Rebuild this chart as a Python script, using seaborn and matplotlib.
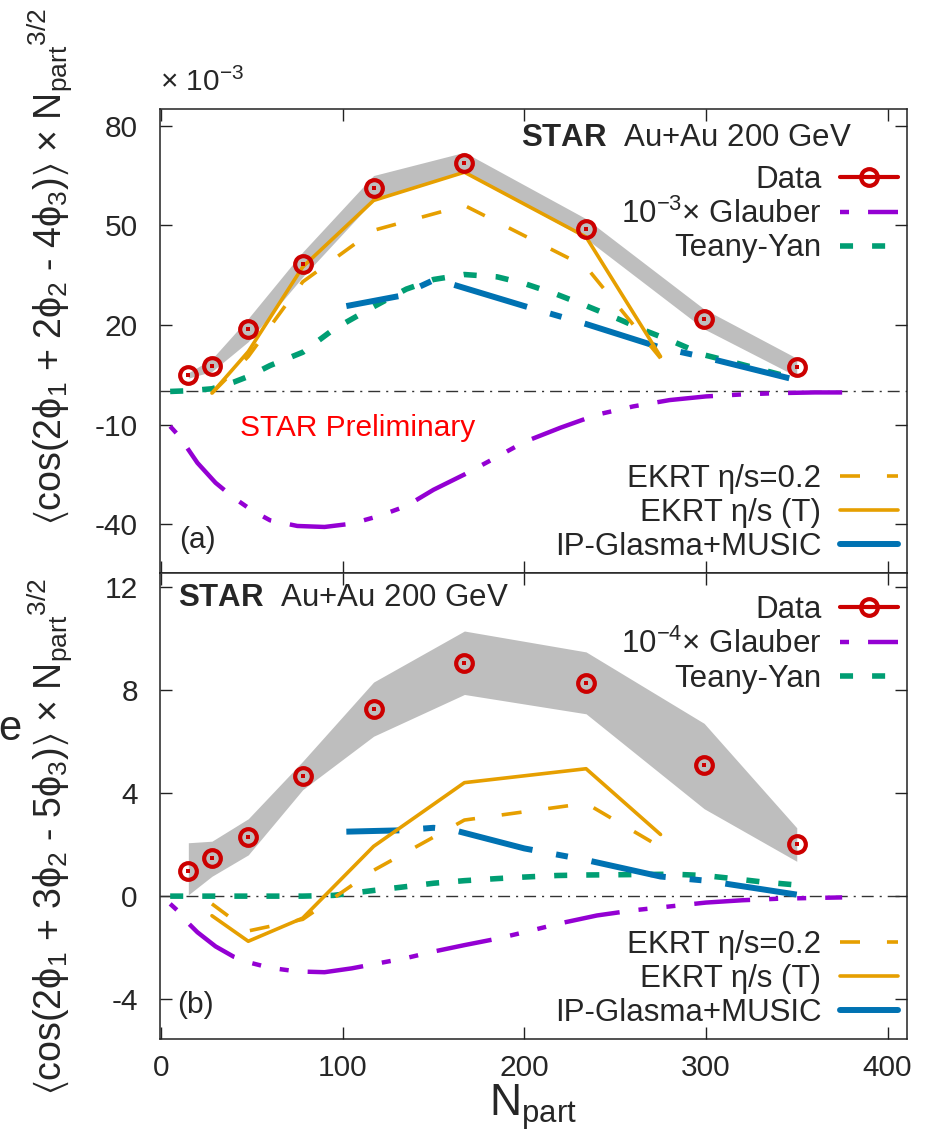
import numpy as np
import pandas as pd
import matplotlib
matplotlib.use("Agg")
import matplotlib.pyplot as plt
from matplotlib.lines import Line2D
import seaborn as sns

# ---------------- data ----------------
npart = [15, 28, 48, 78, 117, 167, 234, 299, 350]

# (a) <cos(2phi1 + 2phi2 - 4phi3)> x Npart^{3/2}, in units of 1e-3
data_a = [4.8, 7.7, 18.7, 38.3, 61.2, 68.8, 49.0, 21.8, 7.3]
sys_lo_a = [4.0, 6.0, 15.0, 34.5, 57.5, 66.0, 46.0, 18.8, 4.5]
sys_hi_a = [5.6, 9.8, 22.0, 42.0, 65.0, 72.0, 52.0, 24.8, 10.0]

# (b) <cos(2phi1 + 3phi2 - 5phi3)> x Npart^{3/2}, in units of 1e-3
data_b = [0.96, 1.46, 2.30, 4.64, 7.26, 9.04, 8.25, 5.08, 2.03]
sys_lo_b = [0.05, 0.77, 1.6, 4.13, 6.2, 7.82, 7.07, 3.39, 1.35]
sys_hi_b = [2.07, 2.13, 3.0, 5.23, 8.3, 10.28, 9.47, 6.7, 2.65]

# EKRT hydro
npart_ekrt = [28, 48, 78, 117, 167, 234, 275]
ekrt_T_a = [-0.5, 12.0, 37.5, 57.5, 66.0, 46.5, 10.5]
ekrt_02_a = [-0.5, 10.5, 33.0, 48.5, 56.0, 37.5, 10.0]
ekrt_T_b = [-0.76, -1.75, -0.85, 1.93, 4.4, 4.94, 2.39]
ekrt_02_b = [-0.3, -1.35, -0.9, 1.0, 2.95, 3.6, 1.9]

# Teany-Yan
npart_ty = [5, 15, 28, 40, 48, 60, 78, 95, 117, 135, 150, 167, 185, 200,
            218, 234, 251, 267, 282, 299, 315, 331, 347]
ty_a = [0, 0.2, 0.8, 2.8, 4.5, 7.8, 11.8, 18.7, 25.5, 30.8, 33.7, 35.2, 34.5,
        32.5, 29.2, 25.8, 22.0, 18.2, 15.0, 11.0, 8.8, 6.5, 4.2]
ty_b = [0, 0, 0, 0, 0, 0, 0, 0.03, 0.22, 0.37, 0.5, 0.6, 0.68, 0.74, 0.8,
        0.82, 0.83, 0.84, 0.85, 0.8, 0.68, 0.55, 0.45]

# Glauber (already multiplied by 1e-3 in (a) and 1e-4 in (b))
npart_gl = [5, 10, 15, 20, 30, 40, 50, 60, 75, 90, 105, 120, 135, 150, 167,
            185, 200, 220, 240, 260, 280, 300, 320, 340, 360, 375]
gl_a = [-10.5, -13.5, -17.5, -21.5, -27.5, -32.0, -35.8, -38.8, -40.5, -40.8,
        -39.8, -37.5, -34.5, -29.6, -25.0, -19.7, -15.2, -10.9, -7.0, -4.5,
        -2.6, -1.5, -0.9, -0.5, -0.3, -0.3]
gl_b = [-0.3, -0.62, -1.05, -1.4, -1.95, -2.35, -2.6, -2.78, -2.92, -2.95,
        -2.8, -2.6, -2.4, -2.15, -1.9, -1.65, -1.4, -1.05, -0.75, -0.55,
        -0.4, -0.25, -0.16, -0.1, -0.07, -0.05]

# IP-Glasma+MUSIC
npart_ip = [102, 131, 150, 160, 200, 234, 275, 300, 350]
ip_a = [25.7, 28.7, 33.5, 32.3, 25.7, 20.3, 13.2, 10.2, 3.4]
ip_b = [2.5, 2.55, 2.65, 2.58, 1.85, 1.4, 0.76, 0.6, 0.06]

yticks_a = [80, 50, 20, -10, -40]
yticks_b = [12, 8, 4, 0, -4]
xticks = [0, 100, 200, 300, 400]

# ---------------- style ----------------
sns.set_theme(style="ticks")
plt.rcParams.update({
    "font.family": ["Liberation Sans", "DejaVu Sans"],
    "mathtext.fontset": "custom",
    "mathtext.rm": "Liberation Sans",
    "mathtext.it": "Liberation Sans:italic",
    "mathtext.bf": "Liberation Sans:bold",
    "mathtext.sf": "Liberation Sans",
    "mathtext.fallback": "stixsans",
    "axes.unicode_minus": False,
    "lines.scale_dashes": False,
    "axes.linewidth": 1.1,
    "axes.edgecolor": "#222222",
})

RED = "#CC0000"
GRAY = "#BEBEBE"
PURPLE = "#9400D3"
GREEN = "#009E73"
ORANGE = "#E69F00"
BLUE = "#0072B2"

GL_STYLE = (74.2, (40.3, 13.7, 6.5, 13.7, 6.5, 13.7))
TY_STYLE = (0, (9.4, 13.7))
EK_STYLE = (0, (14.4, 19.4))
IP_STYLE = (16.6, (54.7, 17.3, 8.6, 17.3))
ZERO_STYLE = (0, (8.6, 4.3, 1.5, 4.3))

FS = 22.5

fig = plt.figure(figsize=(9.29, 11.43), dpi=100)
W, H = 929.0, 1143.0
ax_a = fig.add_axes([160 / W, 1 - 573 / H, 747 / W, 464 / H])
ax_b = fig.add_axes([160 / W, 1 - 1039 / H, 747 / W, 466 / H], sharex=ax_a)


def draw_panel(ax, data, lo, hi, ekT, ek02, ty, gl, ip):
    ax.axhline(0, color="#333333", lw=1.0, linestyle=ZERO_STYLE, zorder=1.5)
    ax.fill_between(npart, lo, hi, color=GRAY, lw=0, zorder=1)
    sns.lineplot(x=npart_gl, y=gl, ax=ax, color=PURPLE, lw=3.2,
                 linestyle=GL_STYLE, errorbar=None, legend=False, zorder=2)
    sns.lineplot(x=npart_ty, y=ty, ax=ax, color=GREEN, lw=4.0,
                 linestyle=TY_STYLE, errorbar=None, legend=False, zorder=2.2)
    sns.lineplot(x=npart_ip, y=ip, ax=ax, color=BLUE, lw=4.3,
                 linestyle=IP_STYLE, errorbar=None, legend=False, zorder=2.4)
    sns.lineplot(x=npart_ekrt, y=ek02, ax=ax, color=ORANGE, lw=2.6,
                 linestyle=EK_STYLE, errorbar=None, legend=False, zorder=2.6)
    sns.lineplot(x=npart_ekrt, y=ekT, ax=ax, color=ORANGE, lw=2.6,
                 errorbar=None, legend=False, zorder=2.7)
    ax.plot(npart, data, linestyle="none", marker="o", ms=12, mfc="none",
            mec=RED, mew=3.0, zorder=5)
    ax.plot(npart, data, linestyle="none", marker="s", ms=3.2, mfc=RED,
            mec=RED, mew=0, zorder=5.1)
    ax.tick_params(axis="both", which="major", direction="in", length=8.5,
                   width=1.0, top=True, right=True, labelsize=21.5,
                   color="#222222")
    ax.tick_params(axis="y", pad=16)
    ax.tick_params(axis="x", pad=11)
    ax.grid(False)


draw_panel(ax_a, data_a, sys_lo_a, sys_hi_a, ekrt_T_a, ekrt_02_a, ty_a, gl_a, ip_a)
draw_panel(ax_b, data_b, sys_lo_b, sys_hi_b, ekrt_T_b, ekrt_02_b, ty_b, gl_b, ip_b)

ax_a.set_xlim(-0.6, 410.7)
ax_a.set_ylim(-54.66, 85.03)
ax_b.set_ylim(-5.54, 12.53)
ax_a.set_yticks(yticks_a)
ax_b.set_yticks(yticks_b)
ax_b.set_xticks(xticks)
ax_a.tick_params(labelbottom=False)
ax_b.set_xlabel("N$_{\\mathrm{part}}$", fontsize=32, labelpad=0)

# ---------------- legends ----------------
h_data = Line2D([], [], color=RED, lw=3.0, marker="o", ms=12, mfc="none",
                mec=RED, mew=3.0)
h_gl = Line2D([], [], color=PURPLE, lw=3.2, linestyle=GL_STYLE)
h_ty = Line2D([], [], color=GREEN, lw=4.0, linestyle=TY_STYLE)
h_ek02 = Line2D([], [], color=ORANGE, lw=2.6, linestyle=EK_STYLE)
h_ekT = Line2D([], [], color=ORANGE, lw=2.6)
h_ip = Line2D([], [], color=BLUE, lw=4.3)

leg_kw = dict(frameon=False, markerfirst=False, fontsize=FS, handlelength=1.85,
              handletextpad=0.6, labelspacing=0.12, borderpad=0,
              borderaxespad=0, numpoints=1)

model_labels = ["EKRT η/s=0.2", "EKRT η/s (T)", "IP-Glasma+MUSIC"]

for ax, scale, top_y, bot_y in [(ax_a, "-3", 0.880, 0.024),
                                 (ax_b, "-4", 0.952, 0.024)]:
    lg1 = ax.legend([h_data, h_gl, h_ty],
                    ["Data", f"10$^{{{scale}}}$× Glauber", "Teany-Yan"],
                    loc="upper right", bbox_to_anchor=(0.988, top_y), **leg_kw)
    ax.add_artist(lg1)
    ax.legend([h_ek02, h_ekT, h_ip], model_labels, loc="lower right",
              bbox_to_anchor=(0.988, bot_y), **leg_kw)

ax_a.text(0.926, 0.9375, "$\\mathbf{STAR}$  Au+Au 200 GeV", transform=ax_a.transAxes,
          ha="right", va="center", fontsize=FS)
ax_b.text(0.024, 0.946, "$\\mathbf{STAR}$  Au+Au 200 GeV", transform=ax_b.transAxes,
          ha="left", va="center", fontsize=FS)
ax_a.text(0.264, 0.3125, "STAR Preliminary", transform=ax_a.transAxes,
          ha="center", va="center", fontsize=21.5, color="#FF0000")
ax_a.text(0.0495, 0.071, "(a)", transform=ax_a.transAxes, ha="center",
          va="center", fontsize=21.5)
ax_b.text(0.047, 0.073, "(b)", transform=ax_b.transAxes, ha="center",
          va="center", fontsize=21.5)

# axis titles and exponent marker
fig.text(160 / W, 1 - 82 / H, "× 10$^{-3}$", ha="left", va="center", fontsize=21.5)
fig.text(50 / W, 1 - 266 / H,
         "$\\langle$cos(2ϕ$_1$ + 2ϕ$_2$ - 4ϕ$_3$)$\\rangle$ × N$_{\\mathrm{part}}$$^{3/2}$",
         rotation=90, ha="center", va="center", fontsize=27)
fig.text(50 / W, 1 - 836 / H,
         "$\\langle$cos(2ϕ$_1$ + 3ϕ$_2$ - 5ϕ$_3$)$\\rangle$ × N$_{\\mathrm{part}}$$^{3/2}$",
         rotation=90, ha="center", va="center", fontsize=27)
fig.text(-0.002, 1 - 729 / H, "e", ha="left", va="center", fontsize=30)

fig.savefig("out.png", dpi=100)
